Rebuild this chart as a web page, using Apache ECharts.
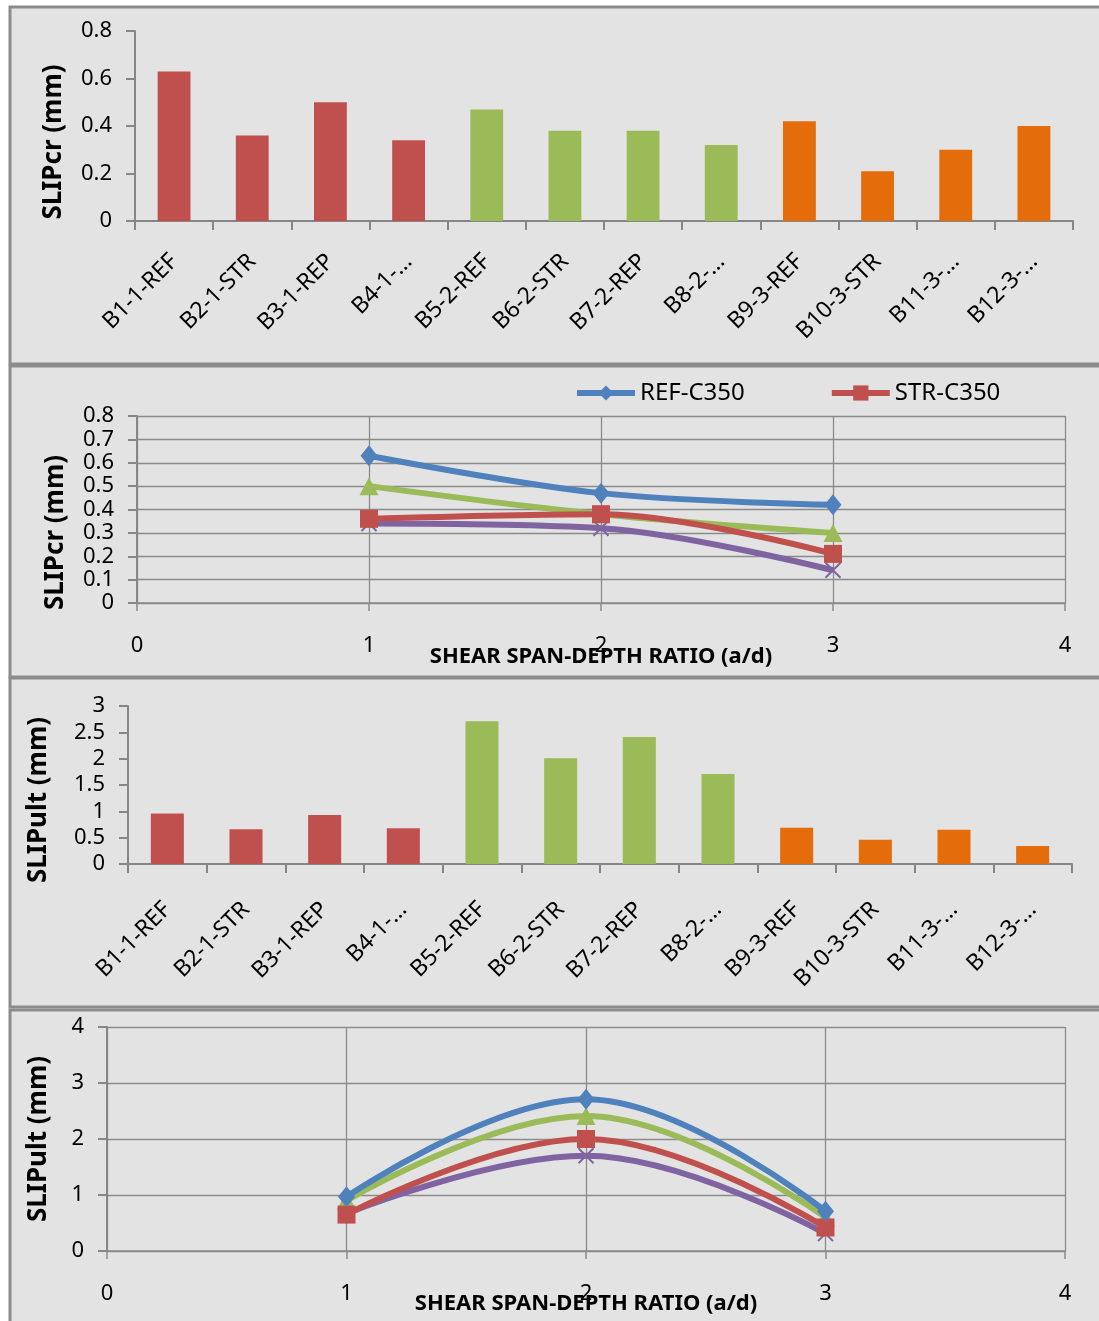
<!DOCTYPE html>
<html><head><meta charset="utf-8">
<script src="https://cdn.jsdelivr.net/npm/echarts@6/dist/echarts.min.js"></script>
<style>html,body{margin:0;padding:0;background:#ffffff}#c{width:1099px;height:1321px}</style>
</head><body><div id="c"></div>
<script>
// ---------- data ----------
const categories = ['B1-1-REF','B2-1-STR','B3-1-REP','B4-1-…','B5-2-REF','B6-2-STR','B7-2-REP','B8-2-…','B9-3-REF','B10-3-STR','B11-3-…','B12-3-…'];
const slipCr  = [0.63,0.36,0.50,0.34,0.47,0.38,0.38,0.32,0.42,0.21,0.30,0.40];
const slipUlt = [0.96,0.66,0.93,0.68,2.71,2.01,2.41,1.71,0.69,0.46,0.65,0.34];
const ratio = [1,2,3];
const seriesNames = ['REF-C350','STR-C350','REP-C350','STR+REP-C350'];
const crREF   = [0.63,0.47,0.42];
const crSTR   = [0.36,0.38,0.21];
const crREP   = [0.50,0.38,0.30];
const crSR    = [0.34,0.32,0.14];
const ultREF  = [0.97,2.71,0.71];
const ultSTR  = [0.65,2.00,0.42];
const ultREP  = [0.90,2.41,0.60];
const ultSR   = [0.67,1.70,0.31];
const crTicks  = {min:0,max:0.8,interval:0.2};
const cr2Ticks = {min:0,max:0.8,interval:0.1};
const ultTicks = {min:0,max:3,interval:0.5};
const ult2Ticks= {min:0,max:4,interval:1};
const xRatioTicks = {min:0,max:4,interval:1};

// ---------- style ----------
const FONT = '"Noto Sans", "Open Sans", sans-serif';
const AX = '#868686', GRID = '#8a8a8a', BG = '#e3e3e3';
const groupColors = ['#C0504D','#9BBB59','#E46C0A'];
const lineColors = ['#4F81BD','#C0504D','#9BBB59','#8064A2'];
const symbols = ['diamond','rect','triangle','path://M0,0 L10,10 M10,0 L0,10'];
const symSizes = [[17,21],18,[19,18],15];
function colorFor(name){ return groupColors[parseInt(name.split('-')[1],10)-1]; }

const chart = echarts.init(document.getElementById('c'));

const grids = [
  {left:135, top:31,  width:938, height:190},
  {left:137, top:416, width:928, height:187},
  {left:128, top:706, width:944, height:158},
  {left:107, top:1027,width:958, height:224}
].map(g=>Object.assign(g,{outerBoundsMode:'none', containLabel:false}));

function catX(gi,margin){
  return {type:'category', gridIndex:gi, data:categories,
    axisLine:{lineStyle:{color:AX,width:2}},
    axisTick:{show:true,length:9,lineStyle:{color:AX,width:2}},
    axisLabel:{rotate:45, fontFamily:FONT, fontSize:23, color:'#000', margin:margin, interval:0}};
}
function valY(gi,t,name,gap,pad,split){
  return {type:'value', gridIndex:gi, min:t.min, max:t.max, interval:t.interval,
    name:name, nameLocation:'middle', nameGap:gap, nameRotate:90, nameMoveOverlap:false,
    nameTextStyle:{fontFamily:FONT, fontWeight:'bold', fontSize:26, color:'#000', padding:[0,pad,0,0]},
    axisLine:{show:true,lineStyle:{color:AX,width:2}},
    axisTick:{show:true,length:9,lineStyle:{color:AX,width:2}},
    axisLabel:{fontFamily:FONT, fontSize:22, color:'#000', margin:23},
    splitLine:{show:split, lineStyle:{color:GRID,width:1.3}}};
}
function ratioX(gi,gap,margin){
  return {type:'value', gridIndex:gi, min:xRatioTicks.min, max:xRatioTicks.max, interval:xRatioTicks.interval,
    name:'SHEAR SPAN-DEPTH RATIO (a/d)', nameLocation:'middle', nameGap:gap, nameMoveOverlap:false,
    nameTextStyle:{fontFamily:FONT, fontWeight:'bold', fontSize:22, color:'#000'},
    axisLine:{show:true,lineStyle:{color:GRID,width:1.5}},
    axisTick:{show:true,length:8,lineStyle:{color:GRID,width:1.5}},
    axisLabel:{fontFamily:FONT, fontSize:22, color:'#000', margin:margin},
    splitLine:{show:true, lineStyle:{color:GRID,width:1.3}}};
}
function lineSeries(k, data, xi, smooth){
  return {type:'line', name:seriesNames[k], xAxisIndex:xi, yAxisIndex:xi,
    data: ratio.map((x,i)=>[x,data[i]]), smooth:smooth,
    symbol:symbols[k], symbolSize:symSizes[k], showSymbol:true,
    lineStyle:{color:lineColors[k], width:6},
    itemStyle:{color:lineColors[k], borderColor:lineColors[k], borderWidth:k===3?2:0},
    z: 10-k};
}
function barSeries(vals, gi){
  return {type:'bar', xAxisIndex:gi, yAxisIndex:gi, barWidth:'42%',
    data: vals.map((v,i)=>({value:v, itemStyle:{color:colorFor(categories[i])}}))};
}

const panelRects = [[7,364],[366,677],[678,1007],[1010,1330]].map(p=>({
  type:'rect', shape:{x:10, y:p[0], width:1100, height:p[1]-p[0]},
  style:{fill:BG, stroke:'#8c8c8c', lineWidth:3}, z:-10, silent:true}));

chart.setOption({
  backgroundColor:'#ffffff',
  animation:false,
  graphic: panelRects,
  grid: grids,
  legend:{data:seriesNames.slice(0,2), left:569, top:376, itemWidth:58, itemHeight:19, itemGap:84,
    lineStyle:{width:6},
    textStyle:{fontFamily:FONT, fontSize:24, color:'#000'}},
  xAxis:[catX(0,37), ratioX(1,43,32), catX(2,42), ratioX(3,42,32)],
  yAxis:[
    valY(0,crTicks,'SLIPcr (mm)',68,32,false),
    valY(1,cr2Ticks,'SLIPcr (mm)',68,46,true),
    valY(2,ultTicks,'SLIPult (mm)',76,30,false),
    valY(3,ult2Ticks,'SLIPult (mm)',55,0,true)
  ],
  series:[
    barSeries(slipCr,0),
    lineSeries(0,crREF,1,0.35), lineSeries(1,crSTR,1,0.35), lineSeries(2,crREP,1,0.35), lineSeries(3,crSR,1,0.35),
    barSeries(slipUlt,2),
    lineSeries(0,ultREF,3,0.4), lineSeries(1,ultSTR,3,0.4), lineSeries(2,ultREP,3,0.4), lineSeries(3,ultSR,3,0.4)
  ]
});
</script></body></html>
